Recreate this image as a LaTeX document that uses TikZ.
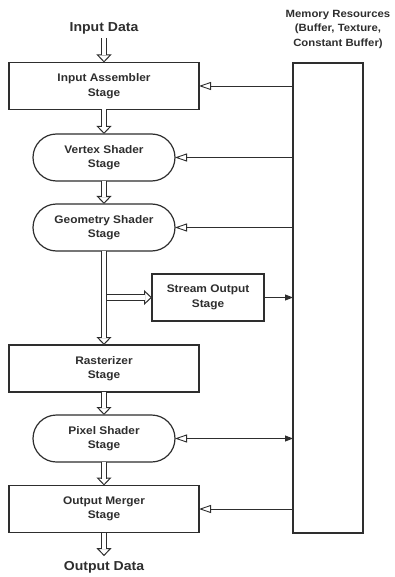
\documentclass[tikz,border=0pt]{standalone}
\usepackage{fontspec}
\setmainfont[FakeStretch=1.08]{Liberation Sans}
\usetikzlibrary{arrows.meta,shapes.misc}
\definecolor{ink}{HTML}{2E2E2E}
\begin{document}
\begin{tikzpicture}[x=1pt,y=-1pt,
  every node/.style={inner sep=0pt, outer sep=0pt, text=ink},
  stagebox/.style={draw=ink, line width=1.2pt, fill=white, minimum height=47pt, align=center,
    font=\bfseries\fontsize{11}{14.5}\selectfont},
  pill/.style={stagebox, rounded rectangle, minimum width=142pt},
  wide/.style={stagebox, rectangle, minimum width=190pt},
  thin/.style={draw=ink, line width=0.9pt},
  openin/.style={thin, -{Triangle[open, length=12pt, width=8pt, fill=white]}},
  solidout/.style={thin, -{Triangle[length=8pt, width=6pt]}},
  flow/.style={draw=none,
    postaction={draw=ink, line width=1pt, -{Triangle[open, length=8pt, width=15pt, fill=white]}},
    postaction={draw=ink, line width=1pt, double=white, double distance=4.5pt, shorten >=7pt}},
  label/.style={font=\bfseries\fontsize{13}{15}\selectfont},
  memlabel/.style={align=center, font=\bfseries\fontsize{10.5}{14.5}\selectfont}
]
\useasboundingbox (0,0) rectangle (394,577);

\node[label] (in) at (104,28) {Input Data};
\node[wide] (ia) at (104,86) {Input Assembler\\Stage};
\node[pill] (vs) at (104,157.5) {Vertex Shader\\Stage};
\node[pill] (gs) at (104,227.5) {Geometry Shader\\Stage};
\node[stagebox, minimum width=112pt] (so) at (208,297.5) {Stream Output\\Stage};
\node[wide] (rs) at (104,368.5) {Rasterizer\\Stage};
\node[pill] (ps) at (104,438.5) {Pixel Shader\\Stage};
\node[wide] (om) at (104,509) {Output Merger\\Stage};
\node[label] (out) at (104,567) {Output Data};

\node[draw=ink, line width=1.2pt, minimum width=70pt, minimum height=470pt] (mem) at (328,298) {};
\node[memlabel] (memt) at (338,29) {Memory Resources\\(Buffer, Texture,\\Constant Buffer)};

% main flow
\draw[flow] ([yshift=-4pt]in.south) -- (ia.north);
\draw[flow] (ia.south) -- (vs.north);
\draw[flow] (vs.south) -- (gs.north);
\draw[flow] (gs.south) -- (rs.north);
\coordinate (br) at ([xshift=3pt]gs.south |- so.west);
\draw[flow] (br) -- (so.west);
\draw[flow] (rs.south) -- (ps.north);
\draw[flow] (ps.south) -- (om.north);
\draw[flow] (om.south) -- ([yshift=5pt]out.north);

% memory connections
\draw[openin] (mem.west |- ia.east) -- (ia.east);
\draw[openin] (mem.west |- vs.east) -- (vs.east);
\draw[openin] (mem.west |- gs.east) -- (gs.east);
\draw[solidout] (so.east) -- (mem.west |- so.east);
\draw[thin, {Triangle[open, length=12pt, width=8pt, fill=white]}-{Triangle[length=8pt, width=6pt]}] (ps.east) -- (mem.west |- ps.east);
\draw[openin] (mem.west |- om.east) -- (om.east);
\end{tikzpicture}
\end{document}
